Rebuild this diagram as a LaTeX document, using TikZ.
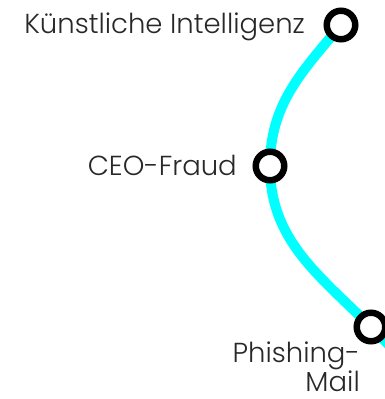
\documentclass[tikz,border=0pt]{standalone}
\usepackage{fontspec}
\setmainfont{Poppins}[UprightFont=* Light]
\usetikzlibrary{backgrounds}
\definecolor{linecyan}{RGB}{0,255,255}
\definecolor{labelgray}{RGB}{40,40,40}
\begin{document}
\begin{tikzpicture}[x=1pt, y=1pt,
    station/.style={circle, draw=black, fill=white, line width=6.5pt,
        minimum size=28.5pt, inner sep=0pt},
    stationlabel/.style={anchor=base east, inner sep=0pt, text=labelgray,
        font=\fontsize{27.5}{28}\selectfont, align=right}]
    \useasboundingbox (0,0) rectangle (385,399);
    % stations
    \node[station] (ki) at (341,374) {};
    \node[station] (ceo) at (270,233) {};
    \node[station] (phish) at (371,72) {};
    \coordinate (phishend) at (405,38);
    % labels
    \node[stationlabel] (kilabel) at (305,365) {Künstliche Intelligenz};
    \node[stationlabel] (ceolabel) at (237,223) {CEO-Fraud};
    \node[stationlabel] (phishlabel) at (360,7) {Phishing-\\Mail};
    % line
    \begin{scope}[on background layer]
        \draw[line width=10pt, linecyan] (ki.center) to[out=-130,in=90]
        (ceo.center) to[out=-90,in=135] (phish.center) -- (phishend);
    \end{scope}
\end{tikzpicture}
\end{document}
